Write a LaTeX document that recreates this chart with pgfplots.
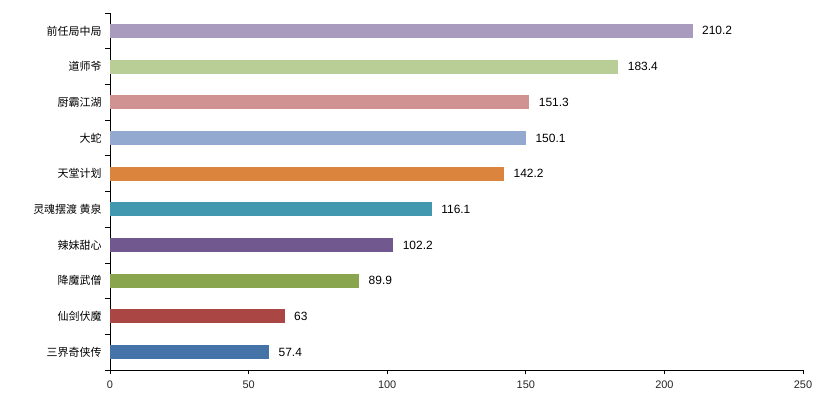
\documentclass[border=0pt]{standalone}
\usepackage{pgfplots}
\pgfplotsset{compat=1.18}
\usepackage{fontspec}
\setmainfont{Liberation Sans}
\newfontfamily\cjk{Noto Sans CJK SC}
\definecolor{c1}{HTML}{4572A7}
\definecolor{c2}{HTML}{AA4643}
\definecolor{c3}{HTML}{89A54E}
\definecolor{c4}{HTML}{71588F}
\definecolor{c5}{HTML}{4198AF}
\definecolor{c6}{HTML}{DB843D}
\definecolor{c7}{HTML}{93A9CF}
\definecolor{c8}{HTML}{D19392}
\definecolor{c9}{HTML}{B9CD96}
\definecolor{c10}{HTML}{A99BBD}
\begin{document}
\begin{tikzpicture}[x=1bp,y=1bp]
\useasboundingbox (-110bp,-29bp) rectangle (717bp,370bp);
\begin{axis}[
  at={(0,0)}, anchor=south west,
  scale only axis, width=693bp, height=357bp,
  xmin=0, xmax=250, ymin=-0.5, ymax=9.5,
  axis x line*=bottom, axis y line*=left,
  axis line style={black, line width=0.8pt},
  xtick={0,50,100,150,200,250},
  xticklabels={0,50,100,150,200,250},
  every x tick label/.append style={font=\fontsize{11}{13}\selectfont, text=black!85, yshift=-3bp},
  ytick={0,...,9},
  yticklabels={三界奇侠传,仙剑伏魔,降魔武僧,辣妹甜心,灵魂摆渡 黄泉,天堂计划,大蛇,厨霸江湖,道师爷,前任局中局},
  yticklabel style={font=\cjk\fontsize{11}{13}\selectfont, xshift=-1bp},
  minor ytick={-0.5,0.5,...,9.5},
  tick align=outside,
  major tick length=4bp, minor tick length=5bp,
  y tick style={draw=none},
  minor y tick style={draw=black, line width=0.8pt},
  x tick style={black, line width=0.8pt},
  xbar, bar width=14bp, bar shift=0pt,
  point meta=explicit symbolic,
  nodes near coords, 
  every node near coord/.append style={font=\fontsize{12}{14}\selectfont, anchor=west, xshift=6bp},
  clip=false,
]
\addplot[fill=c1, draw=none] coordinates {(57.4,0) [57.4]};
\addplot[fill=c2, draw=none] coordinates {(63,1) [63]};
\addplot[fill=c3, draw=none] coordinates {(89.9,2) [89.9]};
\addplot[fill=c4, draw=none] coordinates {(102.2,3) [102.2]};
\addplot[fill=c5, draw=none] coordinates {(116.1,4) [116.1]};
\addplot[fill=c6, draw=none] coordinates {(142.2,5) [142.2]};
\addplot[fill=c7, draw=none] coordinates {(150.1,6) [150.1]};
\addplot[fill=c8, draw=none] coordinates {(151.3,7) [151.3]};
\addplot[fill=c9, draw=none] coordinates {(183.4,8) [183.4]};
\addplot[fill=c10, draw=none] coordinates {(210.2,9) [210.2]};
\end{axis}
\end{tikzpicture}
\end{document}
